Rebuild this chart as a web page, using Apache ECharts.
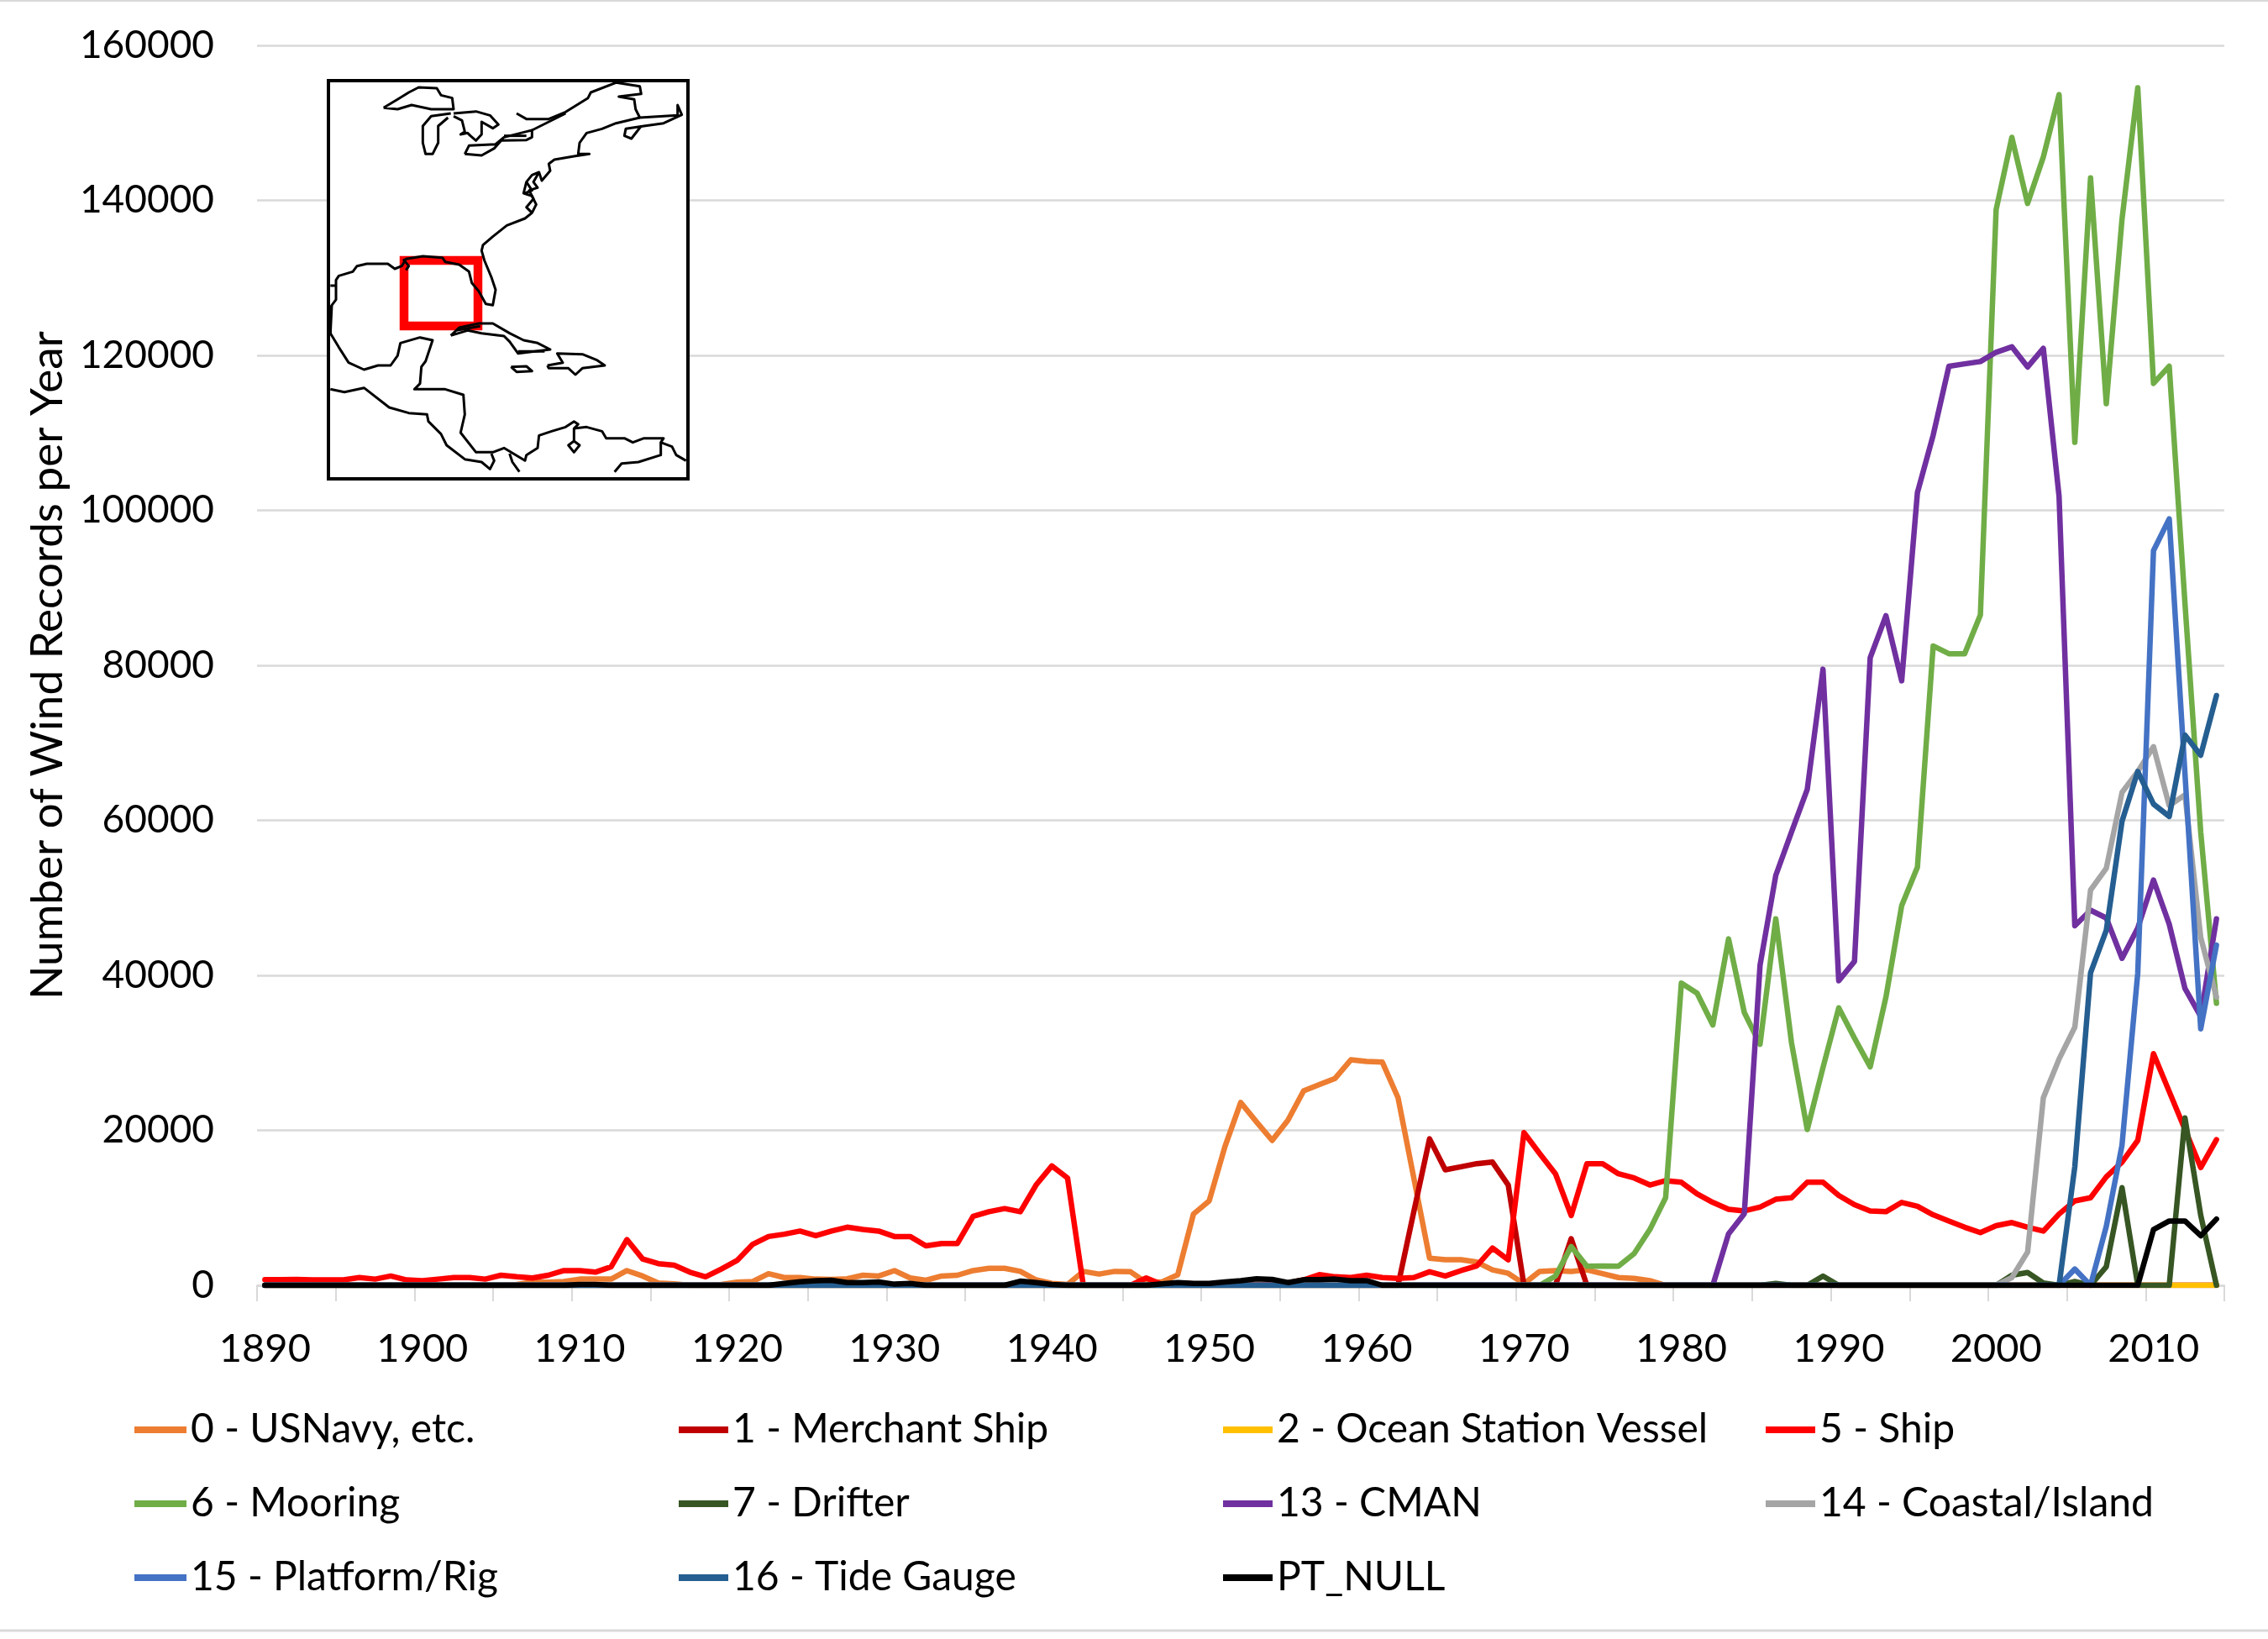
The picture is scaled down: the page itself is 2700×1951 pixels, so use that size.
<!DOCTYPE html>
<html lang="en">
<head>
<meta charset="utf-8">
<title>Wind records per year</title>
<script src="https://cdn.jsdelivr.net/npm/echarts@6/dist/echarts.min.js"></script>
<style>
  html, body { margin: 0; padding: 0; background: #fff; }
  #chart { width: 2700px; height: 1951px; }
</style>
</head>
<body>
<div id="chart"></div>
<script>
var years = [];
for (var y = 1890; y <= 2014; y++) years.push(String(y));

var yTicks = [0, 20000, 40000, 60000, 80000, 100000, 120000, 140000, 160000];

// one row per decade, 1890s first
var usNavy = [
  0,0,0,0,0,0,0,0,0,0,
  0,0,0,0,0,0,100,400,400,500,
  800,800,800,1900,1200,300,200,0,0,100,
  400,500,1500,1000,1000,800,750,850,1300,1200,
  1900,950,650,1200,1300,1900,2200,2200,1800,700,
  250,100,1800,1450,1800,1750,350,450,1350,9200,
  10900,17900,23600,21100,18700,21300,25100,25900,26700,29100,
  28900,28800,24200,13850,3500,3300,3300,3000,2000,1550,
  200,1800,1900,1800,2000,1500,1000,900,600,0,
  0,0,0,0,0,0,0,0,0,0,
  0,0,0,0,0,0,0,0,0,0,
  0,0,0,0,0,0,0,0,0,0,
  0,0,0,0,0
];
var merchantShip = [
  0,0,0,0,0,0,0,0,0,0,
  0,0,0,0,0,0,0,0,0,0,
  0,0,0,0,0,0,0,0,0,0,
  0,0,0,0,0,0,0,0,0,0,
  0,0,0,0,0,0,0,0,0,0,
  0,0,0,0,0,0,0,0,0,0,
  0,0,0,0,0,0,0,0,0,0,
  0,0,0,9500,18900,14900,15300,15700,15900,12950,
  0,0,0,6000,0,0,0,0,0,0,
  0,0,0,0,0,0,0,0,0,0,
  0,0,0,0,0,0,0,0,0,0,
  0,0,0,0,0,0,0,0,0,0,
  0,0,0,0,0
];
var oceanStation = [
  0,0,0,0,0,0,0,0,0,0,
  0,0,0,0,0,0,0,0,0,0,
  0,0,0,0,0,0,0,0,0,0,
  0,0,0,0,0,0,0,0,0,0,
  0,0,0,0,0,0,0,0,0,0,
  0,0,0,0,0,0,0,0,0,0,
  0,0,0,0,0,0,0,0,0,0,
  0,0,0,0,0,0,0,0,0,0,
  0,0,0,0,0,0,0,0,0,0,
  0,0,0,0,0,0,0,0,0,0,
  0,0,0,0,0,0,0,0,0,0,
  0,0,0,0,0,0,0,0,0,0,
  0,0,0,0,0
];
var ship = [
  730,730,750,700,700,700,1000,800,1200,700,
  600,800,1000,1000,800,1300,1100,950,1300,1900,
  1900,1700,2400,5900,3400,2800,2600,1700,1100,2100,
  3200,5300,6300,6600,7000,6400,7000,7500,7200,7000,
  6300,6300,5100,5400,5400,8900,9500,9900,9500,12950,
  15400,13850,0,0,0,0,950,100,300,200,
  100,100,100,100,100,300,700,1380,1100,1000,
  1300,1000,900,1000,1750,1200,1900,2500,4800,3300,
  19700,17000,14400,9000,15700,15700,14400,13850,12950,13500,
  13300,11800,10700,9800,9600,10100,11100,11300,13300,13300,
  11600,10400,9600,9500,10700,10200,9100,8300,7500,6800,
  7700,8100,7500,7000,9200,10900,11300,14000,15900,18700,
  29900,25000,20100,15200,18800
];
var mooring = [
  0,0,0,0,0,0,0,0,0,0,
  0,0,0,0,0,0,0,0,0,0,
  0,0,0,0,0,0,0,0,0,0,
  0,0,0,0,0,0,0,0,0,0,
  0,0,0,0,0,0,0,0,0,0,
  0,0,0,0,0,0,0,0,0,0,
  0,0,0,0,0,0,0,0,0,0,
  0,0,0,0,0,0,0,0,0,0,
  0,0,1200,5000,2460,2500,2460,4100,7200,11300,
  39000,37700,33600,44700,35200,31100,47300,31300,20100,28100,
  35800,31900,28200,37200,49000,53950,82500,81500,81500,86500,
  138800,148130,139600,145600,153650,108780,142900,113770,137580,154530,
  116380,118600,88000,58500,36400
];
var drifter = [
  0,0,0,0,0,0,0,0,0,0,
  0,0,0,0,0,0,0,0,0,0,
  0,0,0,0,0,0,0,0,0,0,
  0,0,0,0,0,0,0,0,0,0,
  0,0,0,0,0,0,0,0,0,0,
  0,0,0,0,0,0,0,0,0,0,
  0,0,0,0,0,0,0,0,0,0,
  0,0,0,0,0,0,0,0,0,0,
  0,0,0,0,0,0,0,0,0,0,
  0,0,0,0,0,0,250,0,0,1200,
  0,0,0,0,0,0,0,0,0,0,
  0,1300,1650,300,0,500,0,2400,12600,0,
  0,0,21600,9050,0
];
var cman = [
  0,0,0,0,0,0,0,0,0,0,
  0,0,0,0,0,0,0,0,0,0,
  0,0,0,0,0,0,0,0,0,0,
  0,0,0,0,0,0,0,0,0,0,
  0,0,0,0,0,0,0,0,0,0,
  0,0,0,0,0,0,0,0,0,0,
  0,0,0,0,0,0,0,0,0,0,
  0,0,0,0,0,0,0,0,0,0,
  0,0,0,0,0,0,0,0,0,0,
  0,0,0,6650,9250,41300,52900,58500,64000,79500,
  39300,41800,81000,86400,78000,102300,109700,118600,118900,119200,
  120400,121100,118500,120900,101800,46400,48400,47400,42200,46100,
  52300,46600,38300,34700,47300
];
var coastal = [
  0,0,0,0,0,0,0,0,0,0,
  0,0,0,0,0,0,0,0,0,0,
  0,0,0,0,0,0,0,0,0,0,
  0,0,0,0,0,0,0,0,0,0,
  0,0,0,0,0,0,0,0,0,0,
  0,0,0,0,0,0,0,0,0,0,
  0,0,0,0,0,0,0,0,0,0,
  0,0,0,0,0,0,0,0,0,0,
  0,0,0,0,0,0,0,0,0,0,
  0,0,0,0,0,0,0,0,0,0,
  0,0,0,0,0,0,0,0,0,0,
  0,1000,4300,24200,29200,33300,51000,53800,63600,66300,
  69500,61900,63300,44900,37200
];
var platform = [
  0,0,0,0,0,0,0,0,0,0,
  0,0,0,0,0,0,0,0,0,0,
  0,0,0,0,0,0,0,0,0,0,
  0,0,0,0,0,0,0,0,0,0,
  0,0,0,0,0,0,0,0,0,0,
  0,0,0,0,0,0,0,0,0,0,
  0,0,0,0,0,0,0,0,0,0,
  0,0,0,0,0,0,0,0,0,0,
  0,0,0,0,0,0,0,0,0,0,
  0,0,0,0,0,0,0,0,0,0,
  0,0,0,0,0,0,0,0,0,0,
  0,0,0,0,0,2100,0,7600,18100,40300,
  94800,98900,66000,33100,43900
];
var tideGauge = [
  0,0,0,0,0,0,0,0,0,0,
  0,0,0,0,0,0,0,0,0,0,
  0,0,0,0,0,0,0,0,0,0,
  0,0,0,0,0,0,0,0,0,0,
  0,0,0,0,0,0,0,0,0,0,
  0,0,0,0,0,0,0,0,0,0,
  0,0,0,0,0,0,0,0,0,0,
  0,0,0,0,0,0,0,0,0,0,
  0,0,0,0,0,0,0,0,0,0,
  0,0,0,0,0,0,0,0,0,0,
  0,0,0,0,0,0,0,0,0,0,
  0,0,0,0,0,15300,40300,45800,59900,66300,
  62100,60500,71000,68400,76100
];
var ptNull = [
  0,0,0,0,0,0,0,0,0,0,
  0,0,0,0,0,0,0,0,0,0,
  100,100,0,0,0,0,0,0,0,0,
  0,0,0,250,470,600,650,360,360,430,
  150,250,0,0,0,0,0,0,540,360,
  100,0,0,0,0,0,0,180,360,250,
  250,430,600,830,760,360,720,720,800,600,
  600,0,0,0,0,0,0,0,0,0,
  0,0,0,0,0,0,0,0,0,0,
  0,0,0,0,0,0,0,0,0,0,
  0,0,0,0,0,0,0,0,0,0,
  0,0,0,0,0,0,0,0,0,0,
  7200,8300,8300,6400,8550
];

var seriesNames = ['0 - USNavy, etc.', '1 - Merchant Ship', '2 - Ocean Station Vessel', '5 - Ship',
  '6 - Mooring', '7 - Drifter', '13 - CMAN', '14 - Coastal/Island',
  '15 - Platform/Rig', '16 - Tide Gauge', 'PT_NULL'];
var seriesValues = [usNavy, merchantShip, oceanStation, ship, mooring, drifter, cman, coastal, platform, tideGauge, ptNull];
var seriesColors = ['#ED7D31', '#C00000', '#FFC000', '#FF0000', '#70AD47', '#375623', '#7030A0', '#A5A5A5', '#4472C4', '#255E91', '#000000'];

// inset map outlines, traced in a 3x crop of the inset
var coastlines = [
  [[350,205],[400,175],[440,150],[475,132],[540,135],[555,160],[595,170],[600,210],[520,210],[450,195],[400,210],[350,205]],
  [[590,225],[520,235],[490,270],[490,330],[500,370],[525,370],[545,330],[545,270],[580,240]],
  [[600,225],[680,218],[730,232],[760,265],[740,278],[700,255],[700,300],[680,322],[660,305],[650,295],[625,300],[640,290],[630,250],[600,235]],
  [[640,370],[655,340],[750,335],[780,310],[860,290],[880,285],[880,310],[860,320],[770,322],[745,350],[700,375],[640,370]],
  [[780,305],[860,305]],
  [[825,225],[860,245],[940,245],[1000,220],[1080,170],[1090,150],[1180,115],[1265,128],[1270,155],[1190,165],[1245,175],[1250,210],[1265,240],[1400,232],[1400,195],[1415,230],[1350,260],[1280,270],[1215,280],[1210,305],[1235,315],[1270,270]],
  [[880,285],[940,255],[1000,225]],
  [[1265,240],[1180,260],[1130,280],[1075,295],[1050,330],[1045,370],[1085,370],[1030,378],[960,390],[940,405],[945,430],[915,465],[905,435],[880,445],[860,470],[850,510],[880,520],[895,550],[880,580],[855,600],[790,625],[740,665],[705,695],[700,715],
   [710,750],[735,810],[750,855],[740,910],[715,905],[690,860],[665,830],[655,790],[620,765],[570,755],[560,740],[490,735],[430,745],[415,770],[390,780],[365,762],[290,762],[255,770],[240,790],[190,805],[180,820],[180,890],[165,910],[160,1010],[190,1060],[225,1115],[280,1140],[330,1125],[375,1125],[400,1090],[410,1045],[480,1025],[525,1035],[500,1110],[485,1130],[480,1190],[460,1210],[570,1210],[635,1230],[640,1300],[625,1365],[680,1435],[740,1435],[780,1420],[830,1450],[855,1465],[860,1445],[900,1420],[905,1375],[950,1360],[1000,1345],[1030,1325],[1045,1335],[1030,1350],[1075,1345],[1130,1360],[1145,1385],[1210,1385],[1240,1400],[1280,1385],[1350,1385],[1340,1400],[1380,1415],[1395,1445],[1430,1465]],
  [[905,435],[885,470],[900,490],[870,500],[885,530],[860,560],[880,580]],
  [[860,470],[880,500],[855,510]],
  [[420,745],[440,770],[430,785]],
  [[160,840],[180,840]],
  [[160,910],[160,1010]],
  [[160,1210],[210,1220],[280,1205],[370,1275],[440,1295],[505,1300],[510,1325],[555,1370],[575,1410],[640,1460],[700,1470],[730,1495],[745,1465],[735,1440]],
  [[800,1440],[810,1470],[835,1505]],
  [[1175,1505],[1200,1475],[1260,1470],[1340,1445],[1340,1400]],
  [[1030,1350],[1030,1395],[1010,1410],[1030,1435],[1050,1410],[1030,1395]],
  [[590,1018],[620,990],[690,975],[740,975],[800,1010],[850,1035],[900,1045],[945,1068],[830,1082],[800,1040],[780,1020],[700,1010],[650,1000],[590,1018]],
  [[610,1000],[695,985]],
  [[830,1075],[925,1075]],
  [[805,1130],[860,1128],[880,1145],[825,1148],[805,1130]],
  [[935,1125],[990,1115],[970,1082],[1060,1085],[1110,1105],[1140,1125],[1060,1135],[1035,1158],[1010,1135],[940,1135],[935,1125]]
];

var font = 'Lato';
var fontSize = 47;
var legendFontSize = 48;

function insetPoint(p) {
  return [340 + p[0] / 3, 60 + p[1] / 3];
}

var graphics = [
  { type: 'line', silent: true, shape: { x1: 0, y1: 1, x2: 2700, y2: 1 }, style: { stroke: '#d9d9d9', lineWidth: 2 } },
  { type: 'line', silent: true, shape: { x1: 0, y1: 1941, x2: 2700, y2: 1941 }, style: { stroke: '#d9d9d9', lineWidth: 3 } },
  { type: 'rect', silent: true, z: 100, shape: { x: 391, y: 96, width: 428, height: 474 }, style: { fill: '#fff', stroke: null } },
  { type: 'rect', silent: true, z: 101, shape: { x: 481, y: 310, width: 88, height: 78 }, style: { fill: null, stroke: '#FF0000', lineWidth: 10.5 } }
];
coastlines.forEach(function (line) {
  graphics.push({
    type: 'polyline', silent: true, z: 102,
    shape: { points: line.map(insetPoint) },
    style: { fill: null, stroke: '#000', lineWidth: 3, lineJoin: 'round' }
  });
});
graphics.push({ type: 'rect', silent: true, z: 103, shape: { x: 391, y: 96, width: 428, height: 474 }, style: { fill: null, stroke: '#000', lineWidth: 4 } });

var legendColumns = [
  { left: 160, width: 62, names: [seriesNames[0], seriesNames[4], seriesNames[8]] },
  { left: 808, width: 59, names: [seriesNames[1], seriesNames[5], seriesNames[9]] },
  { left: 1456, width: 59, names: [seriesNames[2], seriesNames[6], seriesNames[10]] },
  { left: 2102, width: 59, names: [seriesNames[3], seriesNames[7]] }
];

var chart = echarts.init(document.getElementById('chart'));
chart.setOption({
  animation: false,
  backgroundColor: '#fff',
  textStyle: { fontFamily: font, color: '#000' },
  grid: { left: 306, right: 52, top: 54, bottom: 421, outerBoundsMode: 'none' },
  legend: legendColumns.map(function (col) {
    return {
      data: col.names,
      orient: 'vertical',
      left: col.left,
      top: 1674,
      padding: 0,
      itemGap: 32,
      itemWidth: col.width,
      itemHeight: 8,
      icon: 'rect',
      selectedMode: false,
      textStyle: { fontFamily: font, fontSize: legendFontSize, color: '#000', lineHeight: 56 }
    };
  }),
  xAxis: {
    type: 'category',
    data: years,
    boundaryGap: true,
    axisLine: { show: true, lineStyle: { color: '#d9d9d9', width: 2.5 } },
    axisTick: { show: true, interval: 4, length: 19, lineStyle: { color: '#d9d9d9', width: 2 } },
    axisLabel: { interval: 9, margin: 52, fontFamily: font, fontSize: fontSize, color: '#000' },
    splitLine: { show: false }
  },
  yAxis: {
    type: 'value',
    min: yTicks[0],
    max: yTicks[yTicks.length - 1],
    interval: 20000,
    name: 'Number of Wind Records per Year',
    nameLocation: 'middle',
    nameGap: 223,
    nameRotate: 90,
    nameTextStyle: { fontFamily: font, fontSize: 53, color: '#000' },
    axisLine: { show: false },
    axisTick: { show: false },
    axisLabel: {
      margin: 51, fontFamily: font, fontSize: 46, color: '#000',
      formatter: function (v) { return String(v); }
    },
    splitLine: { show: true, lineStyle: { color: '#d9d9d9', width: 2.5 } }
  },
  series: seriesNames.map(function (name, i) {
    return {
      name: name,
      type: 'line',
      data: seriesValues[i],
      showSymbol: false,
      symbol: 'none',
      smooth: false,
      itemStyle: { color: seriesColors[i] },
      lineStyle: { color: seriesColors[i], width: 6.5, cap: 'round', join: 'round' }
    };
  }),
  graphic: graphics
});
</script>
</body>
</html>
